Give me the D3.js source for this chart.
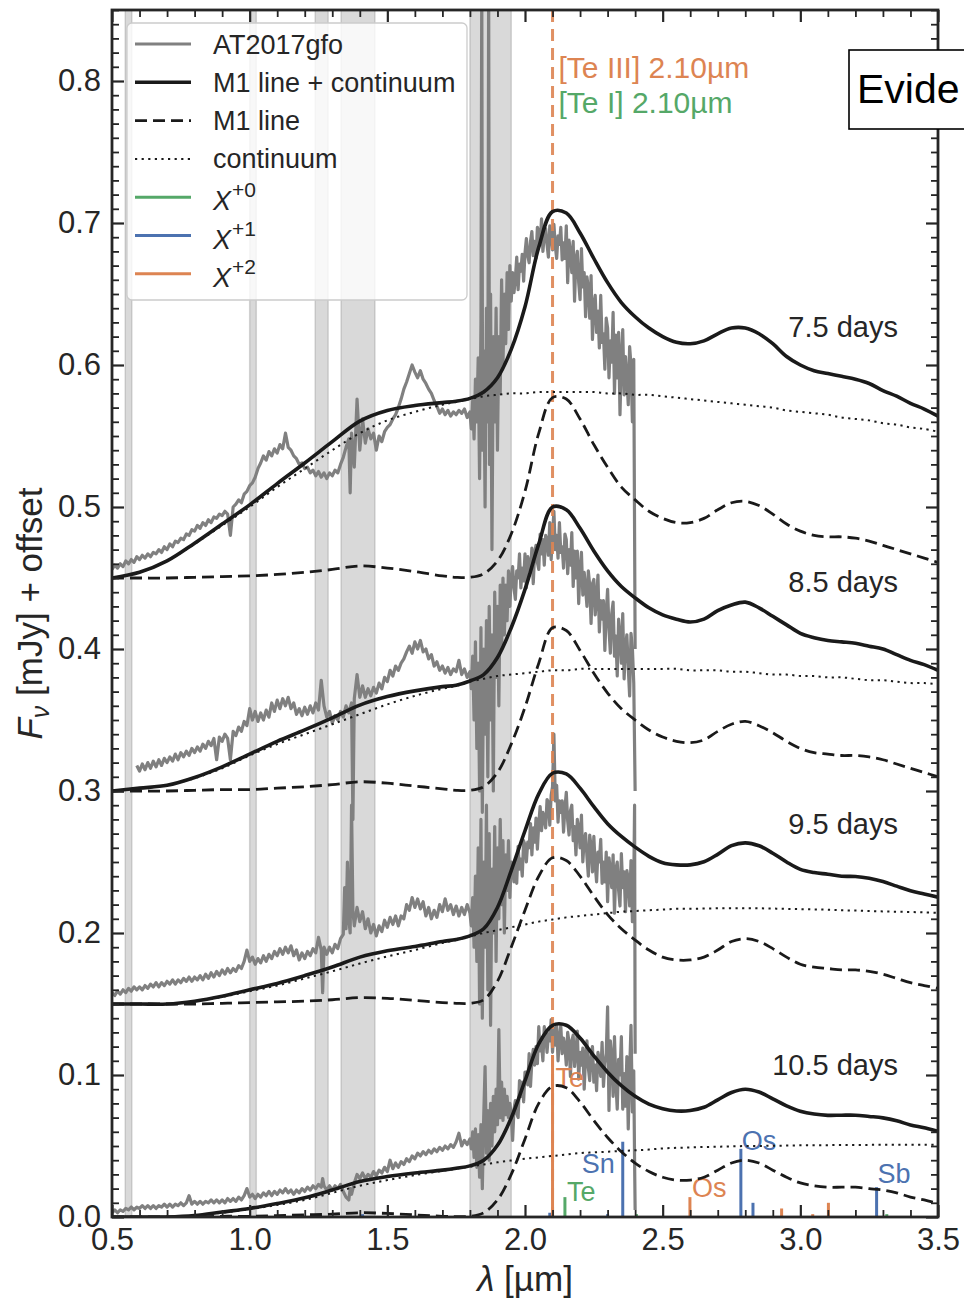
<!DOCTYPE html>
<html>
<head>
<meta charset="utf-8">
<script src="https://cdn.jsdelivr.net/npm/d3@7"></script>
<style>
  body { margin: 0; background: #fff; }
  svg { display: block; }
  text { font-family: "Liberation Sans", Arial, Helvetica, sans-serif; }
</style>
</head>
<body>
<svg id="chart" width="964" height="1300"></svg>
<script>
// ---------------- data ----------------
// model wavelength grid (µm)
const grid = [0.5,0.6,0.7,0.8,0.9,1.0,1.1,1.2,1.3,1.4,1.5,1.6,1.7,1.75,1.8,1.85,1.9,1.95,2.0,2.05,2.1,2.15,2.2,2.25,2.3,2.35,2.4,2.45,2.5,2.55,2.6,2.65,2.7,2.75,2.8,2.85,2.9,2.95,3.0,3.05,3.1,3.15,3.2,3.25,3.3,3.35,3.4,3.45,3.5];

// continuum (offset included) and M1 line profile for each epoch
const cont75 = [.450,.454,.462,.474,.487,.500,.514,.527,.540,.552,.561,.567,.572,.574,.576,.578,.579,.580,.580,.581,.581,.581,.581,.581,.580,.580,.579,.579,.578,.577,.576,.575,.574,.573,.572,.571,.570,.568,.567,.566,.565,.563,.562,.561,.559,.558,.556,.555,.553];
const line75 = [0,0,0,.0005,.001,.0015,.0025,.004,.006,.0085,.007,.0045,.0015,.0005,.0005,.003,.012,.031,.061,.102,.127,.126,.112,.094,.078,.064,.055,.047,.042,.039,.039,.042,.048,.053,.054,.051,.045,.038,.033,.030,.029,.029,.028,.026,.023,.020,.017,.014,.011];

const cont85 = [.300,.302,.304,.309,.316,.325,.333,.340,.347,.354,.361,.367,.372,.374,.377,.379,.381,.382,.383,.384,.385,.385,.386,.386,.386,.386,.386,.386,.386,.386,.385,.385,.385,.384,.384,.383,.382,.382,.381,.381,.380,.380,.379,.378,.378,.377,.376,.376,.375];
const line85 = [0,0,0,.0005,.001,.001,.002,.003,.0045,.0065,.0055,.0035,.0015,.0005,.0005,.003,.013,.033,.059,.090,.115,.113,.099,.083,.069,.058,.050,.043,.038,.035,.034,.036,.042,.047,.049,.046,.041,.035,.030,.027,.026,.025,.025,.024,.022,.019,.016,.013,.010];

const cont95 = [.150,.150,.150,.152,.155,.159,.163,.168,.173,.1785,.1835,.188,.193,.195,.1975,.200,.202,.204,.206,.208,.2095,.211,.212,.213,.214,.215,.2155,.216,.2165,.217,.217,.2172,.2174,.2175,.2175,.2174,.2172,.217,.2168,.2166,.2164,.216,.2158,.2155,.2152,.215,.2148,.2145,.2142];
const line95 = [0,0,0,0,.0005,.001,.0015,.002,.003,.0045,.004,.0025,.001,.0005,.0005,.003,.016,.040,.066,.090,.103,.101,.090,.076,.063,.053,.045,.038,.033,.031,.031,.033,.038,.044,.046,.044,.039,.033,.028,.026,.025,.024,.024,.023,.021,.018,.015,.013,.011];

const cont105 = [0,0,0,.001,.003,.0055,.0085,.012,.017,.022,.026,.0295,.0325,.034,.0355,.037,.0385,.0398,.041,.042,.043,.044,.045,.0455,.046,.0465,.047,.0475,.0483,.0487,.049,.0493,.0495,.0497,.050,.050,.0502,.0503,.0505,.0505,.0506,.0507,.0507,.0508,.0508,.0508,.0508,.0508,.0508];
const line105 = [0,0,0,0,.0005,.0005,.001,.0015,.002,.003,.0025,.0015,.0005,.0003,.0005,.003,.012,.030,.055,.080,.092,.091,.081,.068,.056,.046,.038,.032,.028,.026,.026,.028,.033,.038,.040,.038,.033,.028,.024,.022,.021,.021,.021,.020,.019,.017,.014,.012,.0095];

const offsets = [0.45, 0.30, 0.15, 0.0];
const epochs = ["7.5 days", "8.5 days", "9.5 days", "10.5 days"];

// observed AT2017gfo spectra, [λ µm, flux mJy + offset]
const obs75 = [[0.50,.456],[0.51,.459],[0.52,.457],[0.53,.460],[0.54,.458],[0.55,.462],[0.56,.460],[0.57,.463],[0.58,.461],[0.59,.465],[0.60,.463],[0.61,.466],[0.62,.464],[0.63,.467],[0.64,.465],[0.65,.468],[0.66,.467],[0.67,.470],[0.68,.468],[0.69,.472],[0.70,.470],[0.71,.474],[0.72,.472],[0.73,.476],[0.74,.475],[0.75,.478],[0.76,.477],[0.77,.481],[0.78,.480],[0.79,.484],[0.80,.483],[0.81,.487],[0.82,.485],[0.83,.489],[0.84,.487],[0.85,.491],[0.86,.489],[0.87,.493],[0.88,.492],[0.89,.495],[0.90,.494],[0.91,.497],[0.92,.495],[0.93,.480],[0.94,.500],[0.95,.502],[0.96,.505],[0.97,.503],[0.98,.509],[0.99,.511],[1.00,.515],[1.01,.517],[1.02,.521],[1.03,.527],[1.04,.531],[1.05,.536],[1.06,.533],[1.07,.539],[1.08,.536],[1.09,.541],[1.10,.538],[1.11,.544],[1.12,.541],[1.13,.552],[1.14,.542],[1.15,.540],[1.16,.536],[1.17,.534],[1.18,.530],[1.19,.531],[1.20,.527],[1.21,.528],[1.22,.524],[1.23,.526],[1.24,.522],[1.25,.525],[1.26,.521],[1.27,.524],[1.28,.520],[1.29,.524],[1.30,.522],[1.31,.526],[1.32,.524],[1.33,.530],[1.34,.535],[1.35,.542],[1.36,.548],[1.365,.510],[1.37,.552],[1.38,.528],[1.39,.576],[1.40,.540],[1.41,.562],[1.42,.545],[1.43,.555],[1.44,.548],[1.45,.552],[1.46,.540],[1.47,.550],[1.48,.546],[1.49,.553],[1.50,.556],[1.51,.558],[1.52,.562],[1.53,.565],[1.54,.570],[1.55,.576],[1.56,.583],[1.57,.588],[1.58,.594],[1.59,.600],[1.60,.595],[1.61,.591],[1.62,.596],[1.63,.590],[1.64,.587],[1.65,.583],[1.66,.580],[1.67,.575],[1.68,.571],[1.69,.566],[1.70,.569],[1.71,.565],[1.72,.568],[1.73,.564],[1.74,.567],[1.75,.565],[1.76,.568],[1.77,.566],[1.78,.569],[1.79,.563],[1.80,.567],
  [1.805,.555],[1.81,.575],[1.815,.548],[1.82,.590],[1.825,.560],[1.83,.605],[1.835,.520],[1.84,.630],[1.843,.870],[1.846,.540],[1.85,.610],[1.855,.500],[1.86,.640],[1.865,.560],[1.868,.870],[1.871,.530],[1.875,.650],[1.88,.470],[1.885,.620],[1.89,.560],[1.895,.640],[1.90,.540],[1.905,.620],[1.91,.580],[1.915,.660],[1.92,.600],[1.925,.650],[1.93,.615],[1.935,.665],[1.94,.625],[1.945,.670],[1.95,.645],
  [1.955,.665],[1.96,.651],[1.965,.661],[1.97,.676],[1.975,.653],[1.98,.671],[1.985,.666],[1.99,.678],[1.995,.659],[2.00,.679],[2.005,.689],[2.01,.677],[2.015,.672],[2.02,.687],[2.025,.694],[2.03,.677],[2.035,.687],[2.04,.675],[2.045,.697],[2.05,.694],[2.055,.685],[2.06,.703],[2.065,.680],[2.07,.691],[2.075,.696],[2.08,.685],[2.085,.676],[2.09,.698],[2.095,.693],[2.10,.681],[2.105,.699],[2.11,.684],[2.115,.675],[2.12,.691],[2.125,.685],[2.13,.697],[2.135,.674],[2.14,.686],[2.145,.675],[2.15,.698],[2.155,.658],[2.16,.688],[2.165,.679],[2.17,.665],[2.175,.687],[2.18,.645],[2.185,.675],[2.19,.680],[2.195,.658],[2.20,.646],[2.205,.682],[2.21,.655],[2.215,.665],[2.22,.634],[2.225,.662],[2.23,.654],[2.235,.633],[2.24,.663],[2.245,.618],[2.25,.642],[2.255,.649],[2.26,.623],[2.265,.638],[2.27,.612],[2.275,.649],[2.28,.616],[2.285,.622],[2.29,.597],[2.295,.633],[2.30,.626],[2.305,.591],[2.31,.617],[2.315,.602],[2.32,.637],[2.325,.580],[2.33,.621],[2.335,.591],[2.34,.623],[2.345,.565],[2.35,.604],[2.355,.625],[2.36,.579],[2.365,.606],[2.37,.591],[2.375,.572],[2.38,.613],[2.385,.600],[2.39,.560],[2.395,.604],[2.40,.400]];

const obs85 = [[0.59,.318],[0.60,.314],[0.61,.319],[0.62,.315],[0.63,.320],[0.64,.316],[0.65,.321],[0.66,.317],[0.67,.322],[0.68,.318],[0.69,.323],[0.70,.320],[0.71,.324],[0.72,.321],[0.73,.326],[0.74,.322],[0.75,.327],[0.76,.324],[0.77,.328],[0.78,.325],[0.79,.330],[0.80,.327],[0.81,.331],[0.82,.328],[0.83,.333],[0.84,.330],[0.85,.335],[0.86,.332],[0.87,.337],[0.88,.322],[0.89,.338],[0.90,.335],[0.91,.340],[0.92,.337],[0.93,.322],[0.94,.342],[0.95,.339],[0.96,.345],[0.97,.342],[0.98,.349],[0.99,.346],[1.00,.358],[1.01,.350],[1.02,.356],[1.03,.349],[1.04,.355],[1.05,.350],[1.06,.357],[1.07,.352],[1.08,.362],[1.09,.356],[1.10,.364],[1.11,.358],[1.12,.365],[1.13,.360],[1.14,.366],[1.15,.358],[1.16,.362],[1.17,.354],[1.18,.358],[1.19,.353],[1.20,.359],[1.21,.354],[1.22,.360],[1.23,.355],[1.24,.362],[1.25,.357],[1.26,.378],[1.27,.360],[1.28,.352],[1.29,.356],[1.30,.348],[1.31,.353],[1.32,.350],[1.33,.356],[1.34,.352],[1.35,.360],[1.36,.355],[1.37,.362],[1.375,.280],[1.38,.365],[1.39,.382],[1.40,.366],[1.41,.374],[1.42,.366],[1.43,.372],[1.44,.367],[1.45,.373],[1.46,.369],[1.47,.376],[1.48,.372],[1.49,.380],[1.50,.377],[1.51,.385],[1.52,.381],[1.53,.388],[1.54,.385],[1.55,.390],[1.56,.393],[1.57,.398],[1.58,.402],[1.59,.397],[1.60,.405],[1.61,.400],[1.62,.406],[1.63,.398],[1.64,.400],[1.65,.393],[1.66,.396],[1.67,.388],[1.68,.391],[1.69,.385],[1.70,.388],[1.71,.383],[1.72,.387],[1.73,.382],[1.74,.386],[1.75,.384],[1.76,.392],[1.77,.382],[1.78,.386],[1.79,.380],[1.80,.384],
  [1.805,.372],[1.81,.395],[1.815,.350],[1.82,.405],[1.825,.330],[1.83,.390],[1.835,.300],[1.84,.415],[1.845,.285],[1.85,.400],[1.855,.340],[1.86,.420],[1.865,.310],[1.87,.430],[1.875,.350],[1.88,.410],[1.885,.300],[1.89,.440],[1.895,.380],[1.90,.430],[1.905,.360],[1.91,.445],[1.915,.400],[1.92,.450],[1.925,.410],[1.93,.445],[1.935,.420],[1.94,.455],[1.945,.430],[1.95,.450],
  [1.955,.458],[1.96,.443],[1.965,.435],[1.97,.455],[1.975,.450],[1.98,.467],[1.985,.443],[1.99,.457],[1.995,.448],[2.00,.467],[2.005,.443],[2.01,.465],[2.015,.461],[2.02,.454],[2.025,.471],[2.03,.446],[2.035,.468],[2.04,.473],[2.045,.461],[2.05,.456],[2.055,.481],[2.06,.467],[2.065,.477],[2.07,.459],[2.075,.480],[2.08,.477],[2.085,.466],[2.09,.489],[2.095,.463],[2.10,.481],[2.105,.497],[2.11,.470],[2.115,.480],[2.12,.464],[2.125,.489],[2.13,.468],[2.135,.472],[2.14,.457],[2.145,.481],[2.15,.477],[2.155,.453],[2.16,.470],[2.165,.459],[2.17,.482],[2.175,.444],[2.18,.469],[2.185,.450],[2.19,.469],[2.195,.432],[2.20,.456],[2.205,.468],[2.21,.438],[2.215,.454],[2.22,.443],[2.225,.430],[2.23,.455],[2.235,.445],[2.24,.418],[2.245,.446],[2.25,.449],[2.255,.424],[2.26,.436],[2.265,.452],[2.27,.412],[2.275,.434],[2.28,.421],[2.285,.434],[2.29,.399],[2.295,.425],[2.30,.442],[2.305,.414],[2.31,.397],[2.315,.425],[2.32,.433],[2.325,.395],[2.33,.409],[2.335,.381],[2.34,.421],[2.345,.409],[2.35,.390],[2.355,.425],[2.36,.379],[2.365,.402],[2.37,.410],[2.375,.387],[2.38,.367],[2.385,.411],[2.39,.401],[2.395,.376],[2.40,.300]];

const obs95 = [[0.50,.158],[0.51,.156],[0.52,.159],[0.53,.157],[0.54,.160],[0.55,.158],[0.56,.161],[0.57,.159],[0.58,.162],[0.59,.160],[0.60,.162],[0.61,.160],[0.62,.163],[0.63,.161],[0.64,.164],[0.65,.162],[0.66,.165],[0.67,.162],[0.68,.165],[0.69,.163],[0.70,.166],[0.71,.164],[0.72,.167],[0.73,.164],[0.74,.167],[0.75,.165],[0.76,.168],[0.77,.166],[0.78,.169],[0.79,.166],[0.80,.169],[0.81,.167],[0.82,.170],[0.83,.167],[0.84,.171],[0.85,.168],[0.86,.172],[0.87,.169],[0.88,.173],[0.89,.170],[0.90,.174],[0.91,.171],[0.92,.175],[0.93,.172],[0.94,.175],[0.95,.173],[0.96,.177],[0.97,.175],[0.98,.180],[0.99,.188],[1.00,.180],[1.01,.183],[1.02,.178],[1.03,.182],[1.04,.179],[1.05,.184],[1.06,.180],[1.07,.185],[1.08,.182],[1.09,.187],[1.10,.184],[1.11,.189],[1.12,.185],[1.13,.190],[1.14,.186],[1.15,.191],[1.16,.184],[1.17,.188],[1.18,.181],[1.19,.186],[1.20,.182],[1.21,.187],[1.22,.184],[1.23,.189],[1.24,.186],[1.25,.197],[1.26,.188],[1.265,.158],[1.27,.190],[1.28,.185],[1.29,.190],[1.30,.186],[1.31,.192],[1.32,.189],[1.33,.196],[1.34,.199],[1.345,.232],[1.35,.203],[1.355,.250],[1.36,.210],[1.365,.200],[1.37,.290],[1.375,.215],[1.38,.205],[1.39,.218],[1.40,.208],[1.41,.215],[1.42,.203],[1.43,.210],[1.44,.200],[1.45,.206],[1.46,.198],[1.47,.205],[1.48,.201],[1.49,.209],[1.50,.204],[1.51,.211],[1.52,.206],[1.53,.212],[1.54,.205],[1.55,.212],[1.56,.210],[1.57,.220],[1.58,.216],[1.59,.225],[1.60,.218],[1.61,.224],[1.62,.217],[1.63,.222],[1.64,.212],[1.65,.218],[1.66,.210],[1.67,.216],[1.68,.211],[1.69,.220],[1.70,.215],[1.71,.224],[1.72,.216],[1.73,.220],[1.74,.213],[1.75,.219],[1.76,.212],[1.77,.218],[1.78,.213],[1.79,.220],[1.80,.214],
  [1.805,.205],[1.81,.225],[1.815,.190],[1.82,.240],[1.825,.180],[1.83,.260],[1.835,.150],[1.84,.280],[1.845,.140],[1.85,.250],[1.855,.190],[1.86,.290],[1.865,.160],[1.87,.270],[1.875,.135],[1.88,.245],[1.885,.200],[1.89,.275],[1.895,.180],[1.90,.260],[1.905,.210],[1.91,.280],[1.915,.220],[1.92,.265],[1.925,.200],[1.93,.255],[1.935,.230],[1.94,.265],[1.945,.225],[1.95,.250],
  [1.955,.248],[1.96,.236],[1.965,.249],[1.97,.235],[1.975,.261],[1.98,.245],[1.985,.252],[1.99,.240],[1.995,.265],[2.00,.262],[2.005,.250],[2.01,.264],[2.015,.260],[2.02,.277],[2.025,.255],[2.03,.274],[2.035,.264],[2.04,.281],[2.045,.259],[2.05,.277],[2.055,.289],[2.06,.272],[2.065,.285],[2.07,.281],[2.075,.274],[2.08,.294],[2.085,.292],[2.09,.276],[2.095,.297],[2.10,.303],[2.105,.340],[2.11,.293],[2.115,.304],[2.12,.278],[2.125,.293],[2.13,.285],[2.135,.293],[2.14,.271],[2.145,.288],[2.15,.299],[2.155,.279],[2.16,.269],[2.165,.286],[2.17,.290],[2.175,.265],[2.18,.275],[2.185,.255],[2.19,.280],[2.195,.273],[2.20,.260],[2.205,.283],[2.21,.250],[2.215,.265],[2.22,.270],[2.225,.254],[2.23,.240],[2.235,.269],[2.24,.261],[2.245,.243],[2.25,.268],[2.255,.248],[2.26,.236],[2.265,.257],[2.27,.250],[2.275,.266],[2.28,.235],[2.285,.250],[2.29,.236],[2.295,.257],[2.30,.222],[2.305,.253],[2.31,.244],[2.315,.232],[2.32,.255],[2.325,.214],[2.33,.245],[2.335,.250],[2.34,.230],[2.345,.219],[2.35,.256],[2.355,.232],[2.36,.243],[2.365,.215],[2.37,.244],[2.375,.238],[2.38,.219],[2.385,.251],[2.39,.208],[2.395,.234],[2.398,.290],[2.40,.115]];

const obs105 = [[0.50,.003],[0.51,.005],[0.52,.003],[0.53,.005],[0.54,.004],[0.55,.006],[0.56,.005],[0.57,.007],[0.58,.005],[0.59,.007],[0.60,.006],[0.61,.008],[0.62,.006],[0.63,.008],[0.64,.006],[0.65,.008],[0.66,.006],[0.67,.008],[0.68,.007],[0.69,.009],[0.70,.007],[0.71,.009],[0.72,.007],[0.73,.009],[0.74,.008],[0.75,.010],[0.76,.008],[0.77,.010],[0.78,.015],[0.79,.009],[0.80,.011],[0.81,.009],[0.82,.011],[0.83,.009],[0.84,.011],[0.85,.010],[0.86,.012],[0.87,.010],[0.88,.012],[0.89,.010],[0.90,.012],[0.91,.010],[0.92,.013],[0.93,.011],[0.94,.013],[0.95,.011],[0.96,.014],[0.97,.012],[0.98,.015],[0.99,.020],[1.00,.014],[1.01,.016],[1.02,.013],[1.03,.016],[1.04,.014],[1.05,.017],[1.06,.015],[1.07,.018],[1.08,.015],[1.09,.018],[1.10,.016],[1.11,.019],[1.12,.017],[1.13,.020],[1.14,.017],[1.15,.019],[1.16,.016],[1.17,.019],[1.18,.017],[1.19,.020],[1.20,.018],[1.21,.021],[1.22,.019],[1.23,.022],[1.24,.020],[1.25,.023],[1.26,.021],[1.265,.027],[1.27,.022],[1.28,.019],[1.29,.022],[1.30,.019],[1.31,.022],[1.32,.020],[1.33,.023],[1.34,.018],[1.35,.014],[1.36,.012],[1.365,.020],[1.37,.016],[1.38,.024],[1.39,.030],[1.40,.027],[1.41,.031],[1.42,.027],[1.43,.030],[1.44,.028],[1.45,.032],[1.46,.029],[1.47,.033],[1.48,.031],[1.49,.035],[1.50,.032],[1.51,.040],[1.52,.034],[1.53,.038],[1.54,.035],[1.55,.039],[1.56,.037],[1.57,.041],[1.58,.039],[1.59,.043],[1.60,.041],[1.61,.045],[1.62,.043],[1.63,.046],[1.64,.044],[1.65,.047],[1.66,.045],[1.67,.048],[1.68,.046],[1.69,.049],[1.70,.047],[1.71,.050],[1.72,.048],[1.73,.051],[1.74,.049],[1.75,.053],[1.76,.059],[1.77,.050],[1.78,.054],[1.79,.051],[1.80,.055],
  [1.805,.048],[1.81,.060],[1.815,.042],[1.82,.062],[1.825,.035],[1.83,.058],[1.835,.028],[1.84,.065],[1.845,.020],[1.85,.070],[1.855,.106],[1.86,.045],[1.865,.075],[1.87,.040],[1.875,.080],[1.88,.050],[1.885,.085],[1.89,.060],[1.895,.090],[1.90,.065],[1.905,.132],[1.91,.070],[1.915,.095],[1.92,.068],[1.925,.090],[1.93,.072],[1.935,.085],[1.94,.070],[1.945,.080],[1.95,.072],
  [1.955,.054],[1.96,.076],[1.965,.082],[1.97,.073],[1.975,.070],[1.98,.096],[1.985,.085],[1.99,.095],[1.995,.081],[2.00,.102],[2.005,.102],[2.01,.093],[2.015,.115],[2.02,.092],[2.025,.110],[2.03,.118],[2.035,.107],[2.04,.120],[2.045,.108],[2.05,.134],[2.055,.117],[2.06,.122],[2.065,.110],[2.07,.134],[2.075,.129],[2.08,.116],[2.085,.129],[2.09,.124],[2.095,.139],[2.10,.116],[2.105,.133],[2.11,.121],[2.115,.135],[2.12,.110],[2.125,.126],[2.13,.135],[2.135,.115],[2.14,.126],[2.145,.120],[2.15,.107],[2.155,.130],[2.16,.123],[2.165,.099],[2.17,.124],[2.175,.128],[2.18,.106],[2.185,.116],[2.19,.131],[2.195,.097],[2.20,.116],[2.205,.107],[2.21,.119],[2.215,.090],[2.22,.113],[2.225,.124],[2.23,.105],[2.235,.096],[2.24,.114],[2.245,.120],[2.25,.095],[2.255,.107],[2.26,.089],[2.265,.116],[2.27,.110],[2.275,.099],[2.28,.123],[2.285,.092],[2.29,.108],[2.295,.115],[2.30,.148],[2.305,.075],[2.31,.124],[2.315,.112],[2.32,.085],[2.325,.127],[2.33,.095],[2.335,.076],[2.34,.111],[2.345,.100],[2.35,.127],[2.355,.076],[2.36,.101],[2.365,.078],[2.37,.113],[2.375,.062],[2.38,.103],[2.385,.135],[2.39,.074],[2.395,.103],[2.398,.040],[2.40,.005]];

// telluric windows (µm)
const telluric = [[0.548,0.572],[1.000,1.024],[1.238,1.285],[1.332,1.455],[1.800,1.950]];

// identified transitions: neutral (X+0), singly (X+1) and doubly (X+2) ionised
const ion0Lam = [2.145, 2.405, 3.314];
const ion0Str = [0.014, 0.002, 0.002];
const ion0Lab = ["Te", "", ""];
const ion1Lam = [1.41, 2.09, 2.30, 2.355, 2.784, 2.828, 3.277];
const ion1Str = [0.002, 0.003, 0.002, 0.053, 0.048, 0.010, 0.021];
const ion1Lab = ["", "", "", "Sn", "Os", "", "Sb"];
const ion2Lam = [2.10, 2.599, 2.932, 3.045, 3.102];
const ion2Str = [0.114, 0.014, 0.006, 0.002, 0.010];
const ion2Lab = ["Te", "Os", "", "", ""];

const markedLine = 2.10;
const xTicks = [0.5, 1.0, 1.5, 2.0, 2.5, 3.0, 3.5];
const yTicks = [0.0, 0.1, 0.2, 0.3, 0.4, 0.5, 0.6, 0.7, 0.8];

// ---------------- drawing ----------------
const ink = "#262626";
const col = { gray: "#808080", x0: "#55a868", x1: "#4c72b0", x2: "#dd8452", model: "#1a1a1a" };
const L = 112, R = 938, T = 10, B = 1217;

const x = d3.scaleLinear().domain([0.5, 3.5]).range([L, R]);
const y = d3.scaleLinear().domain([0, 0.85]).range([B, T]);

const svg = d3.select("#chart");
svg.append("rect").attr("width", 964).attr("height", 1300).attr("fill", "#fff");

svg.append("defs").append("clipPath").attr("id", "plotArea")
  .append("rect").attr("x", L).attr("y", T).attr("width", R - L).attr("height", B - T);

const plot = svg.append("g").attr("clip-path", "url(#plotArea)");

// telluric bands
plot.selectAll("rect.band").data(telluric).join("rect")
  .attr("class", "band")
  .attr("x", d => x(d[0])).attr("width", d => x(d[1]) - x(d[0]))
  .attr("y", y(0.85) - 5).attr("height", y(0) - y(0.85) + 10)
  .attr("fill", "#808080").attr("fill-opacity", 0.3)
  .attr("stroke", "#808080").attr("stroke-opacity", 0.3).attr("stroke-width", 1.5);

// observed spectra
const specLine = d3.line().x(d => x(d[0])).y(d => y(d[1]));
[obs75, obs85, obs95, obs105].forEach(s => {
  plot.append("path").datum(s).attr("d", specLine)
    .attr("fill", "none").attr("stroke", col.gray).attr("stroke-width", 3.2)
    .attr("stroke-linejoin", "round");
});

// [Te III] / [Te I] 2.10 µm marker
plot.append("line")
  .attr("x1", x(markedLine)).attr("x2", x(markedLine))
  .attr("y1", y(0.85)).attr("y2", y(0))
  .attr("stroke", col.x2).attr("stroke-opacity", 0.9).attr("stroke-width", 3)
  .attr("stroke-dasharray", "12,7");

// transition sticks
const ionSets = [
  { lam: ion0Lam, str: ion0Str, lab: ion0Lab, color: col.x0, key: "0" },
  { lam: ion1Lam, str: ion1Str, lab: ion1Lab, color: col.x1, key: "1" },
  { lam: ion2Lam, str: ion2Str, lab: ion2Lab, color: col.x2, key: "2" }
];
// label placement relative to the top of each stick (px)
const labelNudge = {
  "0Te": { dx: 2, dy: 4, anchor: "start" },
  "1Sn": { dx: -8, dy: 31, anchor: "end" },
  "1Os": { dx: 1, dy: 1, anchor: "start" },
  "1Sb": { dx: 1, dy: -4, anchor: "start" },
  "2Te": { dx: 3, dy: 32, anchor: "start" },
  "2Os": { dx: 2, dy: 0, anchor: "start" }
};
ionSets.forEach(set => {
  const rows = set.lam.map((l, i) => ({ l, s: set.str[i], t: set.lab[i] }));
  plot.selectAll(null).data(rows).join("line")
    .attr("x1", d => x(d.l)).attr("x2", d => x(d.l))
    .attr("y1", y(0)).attr("y2", d => y(d.s))
    .attr("stroke", set.color).attr("stroke-width", 3);
  plot.selectAll(null).data(rows.filter(d => d.t)).join("text")
    .attr("x", d => x(d.l) + labelNudge[set.key + d.t].dx)
    .attr("y", d => y(d.s) + labelNudge[set.key + d.t].dy)
    .attr("text-anchor", d => labelNudge[set.key + d.t].anchor)
    .attr("font-size", 27).attr("fill", set.color)
    .text(d => d.t);
});

// model curves
const models = [
  { cont: cont75, line: line75 },
  { cont: cont85, line: line85 },
  { cont: cont95, line: line95 },
  { cont: cont105, line: line105 }
];
const curve = d3.line().curve(d3.curveCatmullRom.alpha(0.5)).x(d => x(d[0])).y(d => y(d[1]));
models.forEach((m, k) => {
  const contPts = grid.map((g, i) => [g, m.cont[i]]);
  const linePts = grid.map((g, i) => [g, offsets[k] + m.line[i]]);
  const sumPts = grid.map((g, i) => [g, m.cont[i] + m.line[i]]);
  plot.append("path").datum(contPts).attr("d", curve)
    .attr("fill", "none").attr("stroke", col.model).attr("stroke-width", 2)
    .attr("stroke-dasharray", "2.2,4.4");
  plot.append("path").datum(linePts).attr("d", curve)
    .attr("fill", "none").attr("stroke", col.model).attr("stroke-width", 2.8)
    .attr("stroke-dasharray", "12,6");
  plot.append("path").datum(sumPts).attr("d", curve)
    .attr("fill", "none").attr("stroke", col.model).attr("stroke-width", 3.6);
});

// epoch labels
const epochLabelY = [337, 592, 834, 1075];
svg.selectAll("text.epoch").data(epochs).join("text")
  .attr("class", "epoch")
  .attr("x", 898).attr("y", (d, i) => epochLabelY[i])
  .attr("text-anchor", "end").attr("font-size", 29).attr("fill", ink)
  .text(d => d);

// line identification text
svg.append("text").attr("x", x(markedLine) + 6).attr("y", 78)
  .attr("font-size", 30).attr("fill", col.x2).text("[Te III] 2.10µm");
svg.append("text").attr("x", x(markedLine) + 6).attr("y", 113)
  .attr("font-size", 30).attr("fill", col.x0).text("[Te I] 2.10µm");

// axes: inward ticks on all four sides
const xMinor = d3.range(5, 36).map(i => i / 10).filter(v => !xTicks.some(t => Math.abs(t - v) < 1e-6));
const yMinor = d3.range(0, 86).map(i => i / 100).filter(v => !yTicks.some(t => Math.abs(t - v) < 1e-6));
const fmt = d3.format(".1f");

function styleAxis(g, w) {
  g.select(".domain").remove();
  g.selectAll(".tick line").attr("stroke", ink).attr("stroke-width", w);
  g.selectAll(".tick text").attr("fill", ink);
  g.attr("font-family", null).attr("font-size", 31);
}

svg.append("g").attr("transform", `translate(0,${B})`)
  .call(d3.axisBottom(x).tickValues(xTicks).tickFormat(fmt).tickSizeInner(-12).tickSizeOuter(0).tickPadding(11))
  .call(g => styleAxis(g, 2.2));
svg.append("g").attr("transform", `translate(0,${B})`)
  .call(d3.axisBottom(x).tickValues(xMinor).tickFormat("").tickSizeInner(-7).tickSizeOuter(0))
  .call(g => styleAxis(g, 1.8));
svg.append("g").attr("transform", `translate(0,${T})`)
  .call(d3.axisTop(x).tickValues(xTicks).tickFormat("").tickSizeInner(-12).tickSizeOuter(0))
  .call(g => styleAxis(g, 2.2));
svg.append("g").attr("transform", `translate(0,${T})`)
  .call(d3.axisTop(x).tickValues(xMinor).tickFormat("").tickSizeInner(-7).tickSizeOuter(0))
  .call(g => styleAxis(g, 1.8));

svg.append("g").attr("transform", `translate(${L},0)`)
  .call(d3.axisLeft(y).tickValues(yTicks).tickFormat(fmt).tickSizeInner(-12).tickSizeOuter(0).tickPadding(11))
  .call(g => styleAxis(g, 2.2));
svg.append("g").attr("transform", `translate(${L},0)`)
  .call(d3.axisLeft(y).tickValues(yMinor).tickFormat("").tickSizeInner(-7).tickSizeOuter(0))
  .call(g => styleAxis(g, 1.8));
svg.append("g").attr("transform", `translate(${R},0)`)
  .call(d3.axisRight(y).tickValues(yTicks).tickFormat("").tickSizeInner(-12).tickSizeOuter(0))
  .call(g => styleAxis(g, 2.2));
svg.append("g").attr("transform", `translate(${R},0)`)
  .call(d3.axisRight(y).tickValues(yMinor).tickFormat("").tickSizeInner(-7).tickSizeOuter(0))
  .call(g => styleAxis(g, 1.8));

// frame
svg.append("rect").attr("x", L).attr("y", T).attr("width", R - L).attr("height", B - T)
  .attr("fill", "none").attr("stroke", ink).attr("stroke-width", 2.8);

// axis titles
const xt = svg.append("text").attr("x", (L + R) / 2).attr("y", 1291)
  .attr("text-anchor", "middle").attr("font-size", 35).attr("fill", ink);
xt.append("tspan").attr("font-style", "italic").text("λ");
xt.append("tspan").text(" [µm]");

const yt = svg.append("text").attr("transform", `translate(42,${(T + B) / 2}) rotate(-90)`)
  .attr("text-anchor", "middle").attr("font-size", 35).attr("fill", ink);
yt.append("tspan").attr("font-style", "italic").text("F");
yt.append("tspan").attr("font-style", "italic").attr("font-size", 25).attr("dy", 7).text("ν");
yt.append("tspan").attr("dy", -7).text(" [mJy] + offset");

// legend
const legend = svg.append("g");
legend.append("rect").attr("x", 127).attr("y", 23).attr("width", 340).attr("height", 277).attr("rx", 5)
  .attr("fill", "#fff").attr("fill-opacity", 0.8)
  .attr("stroke", "#cccccc").attr("stroke-width", 1.3);
const legendRows = [
  { text: "AT2017gfo", stroke: col.gray, w: 3, dash: null },
  { text: "M1 line + continuum", stroke: col.model, w: 3.6, dash: null },
  { text: "M1 line", stroke: col.model, w: 2.8, dash: "12,6" },
  { text: "continuum", stroke: col.model, w: 2, dash: "2.2,4.4" },
  { sup: "+0", stroke: col.x0, w: 3, dash: null },
  { sup: "+1", stroke: col.x1, w: 3, dash: null },
  { sup: "+2", stroke: col.x2, w: 3, dash: null }
];
legendRows.forEach((r, i) => {
  const cy = 44 + i * 38.3;
  legend.append("line").attr("x1", 135).attr("x2", 191).attr("y1", cy).attr("y2", cy)
    .attr("stroke", r.stroke).attr("stroke-width", r.w).attr("stroke-dasharray", r.dash);
  const t = legend.append("text").attr("x", 213).attr("y", cy + 9.5)
    .attr("font-size", 27).attr("fill", ink);
  if (r.sup) {
    t.attr("y", cy + 13);
    t.append("tspan").attr("font-style", "italic").text("X");
    t.append("tspan").attr("font-size", 21).attr("dy", -13).attr("dx", 1).text(r.sup);
  } else {
    t.text(r.text);
  }
});

// boxed heading on the right edge
svg.append("rect").attr("x", 849).attr("y", 50).attr("width", 160).attr("height", 79)
  .attr("fill", "#fff").attr("stroke", "#000").attr("stroke-width", 1.6);
svg.append("text").attr("x", 857).attr("y", 103)
  .attr("font-family", "Lato, 'Open Sans', sans-serif").attr("font-size", 41)
  .attr("fill", "#000")
  .text("Evide");
</script>
</body>
</html>
